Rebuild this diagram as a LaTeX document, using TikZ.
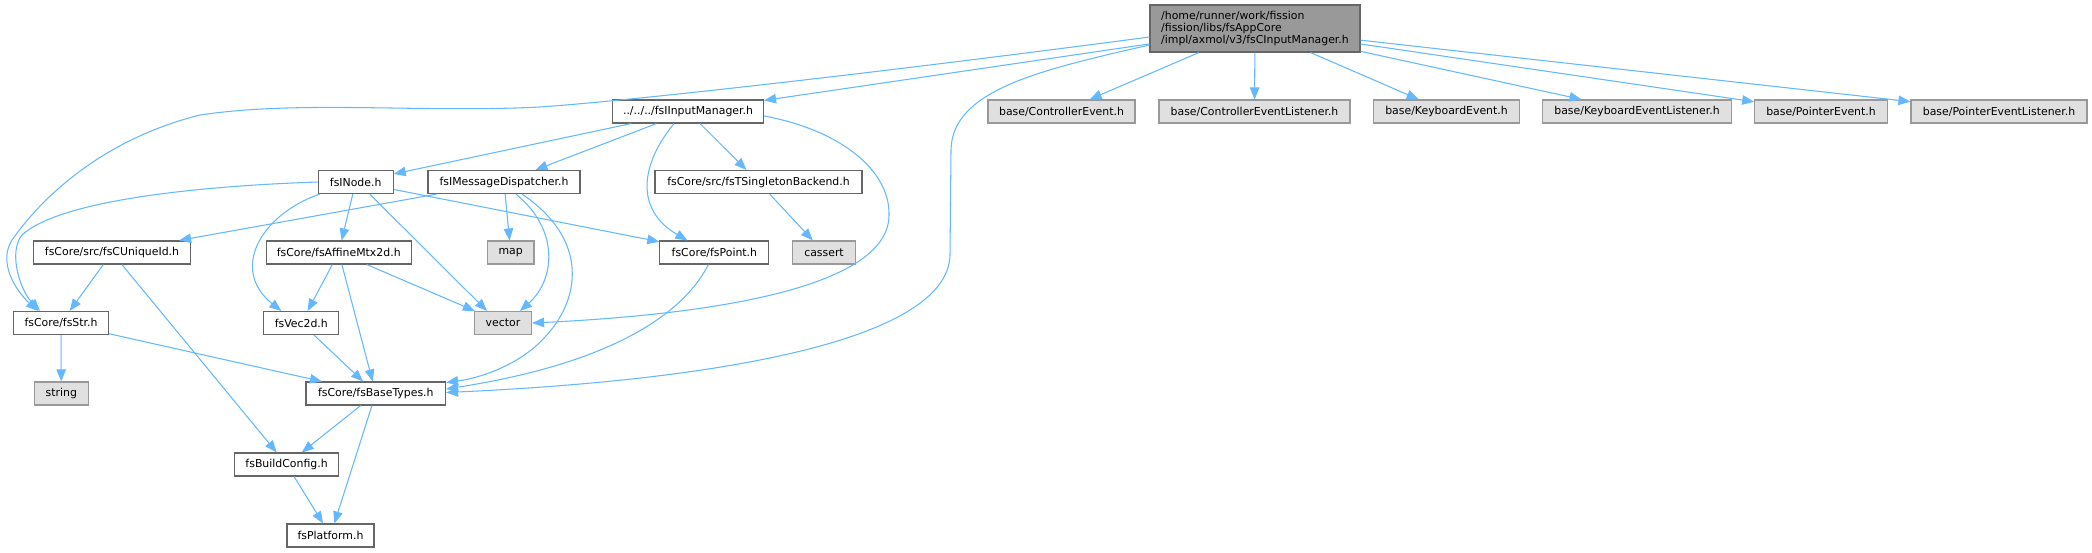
\documentclass[tikz,border=0pt]{standalone}
\usepackage{fontspec}
\setmainfont{DejaVu Sans}
\usetikzlibrary{arrows.meta,calc}
\definecolor{edgec}{HTML}{63B8FF}
\definecolor{boxborder}{HTML}{666666}
\definecolor{extborder}{HTML}{999999}
\definecolor{extfill}{HTML}{E0E0E0}
\definecolor{mainfill}{HTML}{999999}
\tikzset{
  box/.style={draw=boxborder, fill=white, line width=1.15pt, inner sep=0pt,
    minimum height=23pt, font=\fontsize{10.9}{11.8}\selectfont, text=black},
  ext/.style={box, draw=extborder, fill=extfill},
  mainbox/.style={box, fill=mainfill, draw=boxborder, minimum height=47pt, align=left},
  conn/.style={draw=edgec, line width=1.05pt, -{Triangle[length=12pt,width=9.5pt]}}
}
\begin{document}
\begin{tikzpicture}[x=1pt,y=-1pt]
\fill[white] (0,0) rectangle (2092,552);
\useasboundingbox (0,0) rectangle (2092,552);
% nodes
\node[mainbox, minimum width=210pt] (M) at (1255,28.5) {/home/runner/work/fission\\/fission/libs/fsAppCore\\/impl/axmol/v3/fsCInputManager.h};
\node[box, minimum width=151pt] (IM) at (688,111.5) {../../../fsIInputManager.h};
\node[ext, minimum width=147pt] (CE) at (1061.5,111.5) {base/ControllerEvent.h};
\node[ext, minimum width=191pt] (CEL) at (1254.5,111.5) {base/ControllerEventListener.h};
\node[ext, minimum width=146pt] (KE) at (1446.5,111.5) {base/KeyboardEvent.h};
\node[ext, minimum width=189pt] (KEL) at (1637,111.5) {base/KeyboardEventListener.h};
\node[ext, minimum width=132.5pt] (PE) at (1821,111.5) {base/PointerEvent.h};
\node[ext, minimum width=176pt] (PEL) at (1999,111.5) {base/PointerEventListener.h};
\node[box, minimum width=75pt] (N) at (355.7,182) {fsINode.h};
\node[box, minimum width=152pt] (MD) at (504,182) {fsIMessageDispatcher.h};
\node[box, minimum width=207pt] (TSB) at (758.5,182) {fsCore/src/fsTSingletonBackend.h};
\node[box, minimum width=157.5pt] (U) at (112,252.5) {fsCore/src/fsCUniqueId.h};
\node[box, minimum width=145pt] (A) at (338.7,252.5) {fsCore/fsAffineMtx2d.h};
\node[ext, minimum width=46.5pt] (map) at (510.7,252.5) {map};
\node[box, minimum width=109pt] (P) at (714.4,252.5) {fsCore/fsPoint.h};
\node[ext, minimum width=63pt] (cassert) at (824,252.5) {cassert};
\node[box, minimum width=95pt] (S) at (61,323) {fsCore/fsStr.h};
\node[box, minimum width=75pt] (V) at (301.3,323) {fsVec2d.h};
\node[ext, minimum width=57pt] (vec) at (503,323) {vector};
\node[ext, minimum width=54pt] (string) at (61.3,393.5) {string};
\node[box, minimum width=139.5pt] (BT) at (375.8,393.5) {fsCore/fsBaseTypes.h};
\node[box, minimum width=104.5pt] (BC) at (286.6,464.5) {fsBuildConfig.h};
\node[box, minimum width=87pt] (PL) at (330.5,535.5) {fsPlatform.h};
% edges from main
\draw[conn] (M) -- (IM);
\draw[conn] ($(M.west)+(0,8.5)$) .. controls (900,70) and (640,100) .. (540,107)
  .. controls (420,113) and (300,100) .. (200,115)
  .. controls (100,140) and (40,200) .. (12,240)
  .. controls (-2,262) and (15,290) .. ($(S.north)+(-23,0)$);
\draw[conn] ($(M.west)+(0,16.5)$) .. controls (1040,70) and (952,90) .. (951,150)
  -- (950,255) .. controls (948,340) and (720,380) .. ($(BT.east)+(0,-1)$);
\draw[conn] (M) -- (CE);
\draw[conn] (M) -- (CEL);
\draw[conn] (M) -- (KE);
\draw[conn] (M) -- (KEL);
\draw[conn] (M) -- (PE);
\draw[conn] (M) -- (PEL);
% edges from IM
\draw[conn] (IM) -- (N);
\draw[conn] (IM) -- (MD);
\draw[conn] ($(IM.south)+(-14,0)$) .. controls (640,165) and (635,210) .. ($(P.north)+(-27,0)$);
\draw[conn] (IM) -- (TSB);
\draw[conn] ($(IM.east)+(0,4.5)$) .. controls (840,130) and (890,170) .. (889,215)
  .. controls (889,290) and (700,315) .. (vec.east);
% edges from N
\draw[conn] (N.west) .. controls (200,186) and (60,200) .. (22,235)
  .. controls (8,252) and (20,290) .. ($(S.north)+(-21,0)$);
\draw[conn] ($(N.south west)+(2,0)$) .. controls (260,215) and (230,270) .. ($(V.north)+(-20,0)$);
\draw[conn] (N) -- (A);
\draw[conn] ($(N.south)+(14,0)$) -- ($(vec.north)+(-16,0)$);
\draw[conn] (N) -- (P);
% edges from MD
\draw[conn] (MD) -- (U);
\draw[conn] (MD) -- (map);
\draw[conn] ($(MD.south)+(12,0)$) .. controls (560,230) and (555,280) .. ($(vec.north)+(17,0)$);
\draw[conn] ($(MD.south)+(18,0)$) .. controls (590,240) and (580,300) .. (545,337)
  .. controls (520,365) and (480,378) .. ($(BT.east)+(0,-11)$);
% others
\draw[conn] (TSB) -- (cassert);
\draw[conn] (U) -- (S);
\draw[conn] (U) -- (BC);
\draw[conn] (A) -- (V);
\draw[conn] (A) -- (BT);
\draw[conn] (A) -- (vec);
\draw[conn] ($(P.south)+(-6,0)$) .. controls (680,320) and (600,365) .. ($(BT.east)+(0,-4.5)$);
\draw[conn] (S) -- (string);
\draw[conn] (S) -- (BT);
\draw[conn] (V) -- (BT);
\draw[conn] (BT) -- (BC);
\draw[conn] (BT) -- (PL);
\draw[conn] (BC) -- (PL);
\end{tikzpicture}
\end{document}
